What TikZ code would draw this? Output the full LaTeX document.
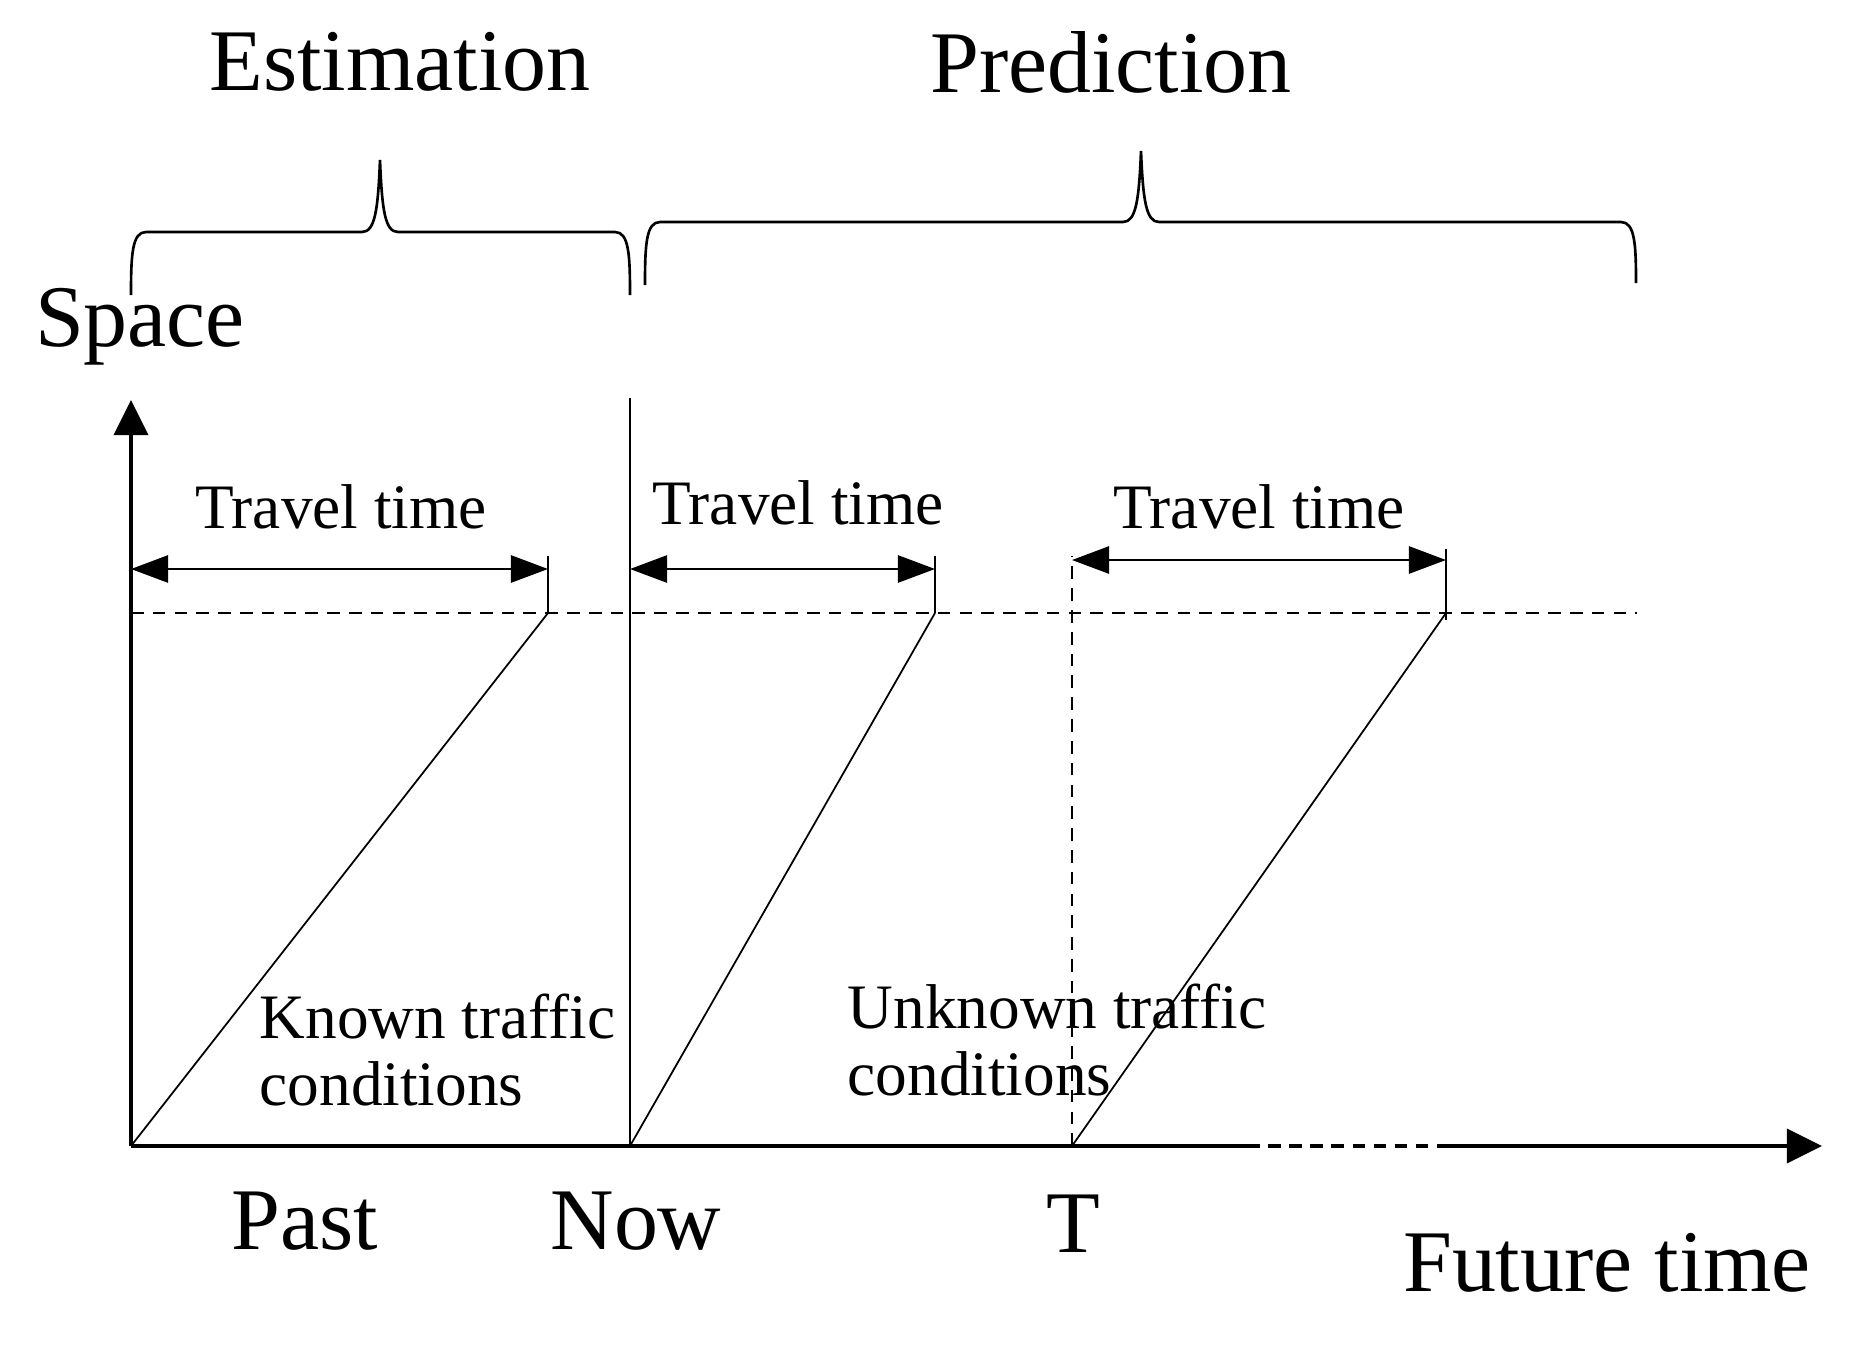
\documentclass[tikz,border=0pt]{standalone}
\usepackage{fontspec}
\setmainfont{Liberation Serif}
\usetikzlibrary{arrows.meta,positioning}

\begin{document}
\begin{tikzpicture}[x=0.01cm,y=-0.01cm,
		axis/.style={line width=1pt,-{Triangle[length=3.5mm,width=3.4mm]}},
		span/.style={line width=0.75pt,{Triangle[length=3.7mm,width=2.7mm]}-{Triangle[length=3.7mm,width=2.7mm]}},
		guide/.style={line width=0.75pt,dash pattern=on 3.6pt off 2.6pt},
		trip/.style={line width=0.5pt},
		curly/.style={line width=0.75pt},
		bigtext/.style={font=\fontsize{25}{30}\selectfont,inner sep=0pt},
		smalltext/.style={font=\fontsize{18}{19}\selectfont,inner sep=0pt,align=left}]
			\useasboundingbox (0,0) rectangle (1863,1345);
			%\draw[step=100,black,very thin] (0,0) grid (1863,1345);
			\coordinate (o) at (131,1146);
			\coordinate (ytop) at (131,400);
			\coordinate (xend) at (1822,1146);
			\coordinate (d1) at (1247,1146);
			\coordinate (d2) at (1443,1146);
			\coordinate (now) at (630,1146);
			\coordinate (nowtop) at (630,398);
			\coordinate (t) at (1072,1146);
			\coordinate (ttop) at (1072,556);
			\coordinate (gl) at (131,613);
			\coordinate (gr) at (1637,613);
			% end points of the three trips
			\coordinate (e1) at (548,613);
			\coordinate (e2) at (935,613);
			\coordinate (e3) at (1446,613);
			% axes
			\draw[axis] (o) -- (ytop);
			\draw[line width=1pt] (o) -- (d1);
			\draw[line width=1pt,dash pattern=on 3.6pt off 2.4pt] (d1) -- (d2);
			\draw[axis] (d2) -- (xend);
			\draw[line width=0.75pt] (now) -- (nowtop);
			\draw[guide] (t) -- (ttop);
			\draw[guide] (gl) -- (gr);
			% trips
			\draw[trip] (o) -- (e1);
			\draw[trip] (now) -- (e2);
			\draw[trip] (t) -- (e3);
			\coordinate (a1) at (548,569);
			\coordinate (a2) at (935,569);
			\coordinate (a3) at (1446,560);
			\draw[line width=0.75pt] (e1) -- (548,556);
			\draw[line width=0.75pt] (e2) -- (935,556);
			\draw[line width=0.75pt] (1446,620) -- (1446,549);
			\draw[span] (131,569) -- (a1);
			\draw[span] (630,569) -- (a2);
			\draw[span] (1072,560) -- (a3);
			\node[smalltext] (tt1) at (341,507) {Travel time};
			\node[smalltext] (tt2) at (798,503) {Travel time};
			\node[smalltext] (tt3) at (1259,507) {Travel time};
			% braces
			\draw[curly] (131,295) .. controls (131,255) and (132,232) .. (146,232) -- (362,232)
				.. controls (375,232) and (378,210) .. (380,160) .. controls (382,210) and (385,232) .. (398,232)
				-- (615,232) .. controls (629,232) and (630,255) .. (630,295);
			\draw[curly] (645,285) .. controls (645,245) and (646,222) .. (660,222) -- (1123,222)
				.. controls (1136,222) and (1139,200) .. (1141,151) .. controls (1143,200) and (1146,222) .. (1159,222)
				-- (1621,222) .. controls (1635,222) and (1636,245) .. (1636,283);
			% labels
			\node[bigtext] (est) at (400,62) {Estimation};
			\node[bigtext] (pred) at (1111,62) {Prediction};
			\node[bigtext] (space) at (140,327) {Space};
			\node[bigtext] (past) at (305,1221) {Past};
			\node[bigtext] (nowlabel) at (636,1221) {Now};
			\node[bigtext] (tlabel) at (1073,1224) {T};
			\node[bigtext] (future) at (1607,1263) {Future time};
			\node[smalltext,anchor=west] (known) at (259,1050) {Known traffic\\conditions};
			\node[smalltext,anchor=west] (unknown) at (847,1040) {Unknown traffic\\conditions};
\end{tikzpicture}
\end{document}
